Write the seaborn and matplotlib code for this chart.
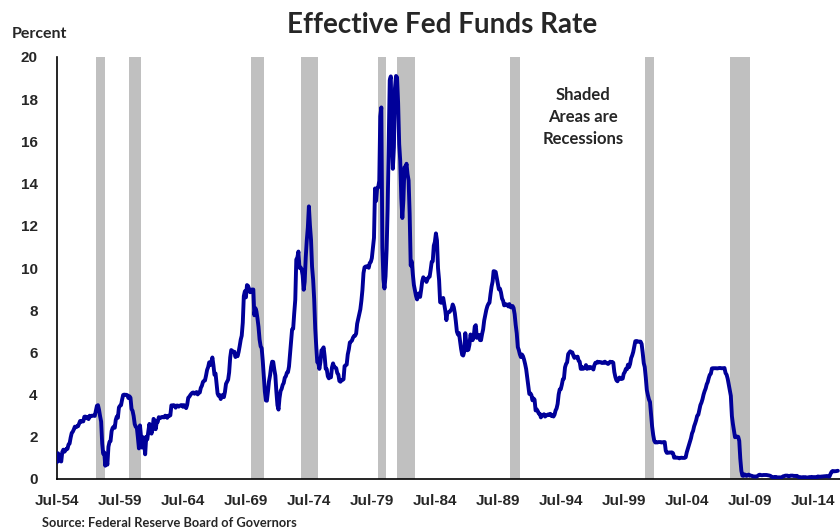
import numpy as np
import pandas as pd
import matplotlib
matplotlib.use("Agg")
import matplotlib.pyplot as plt
import matplotlib.dates as mdates
import seaborn as sns

# Monthly effective fed funds rate (percent), starting Jul 1954
start_month = "1954-07-01"
rate = [
    0.80, 1.22, 1.07, 0.85, 0.83, 1.28,                                  # 1954 (Jul-Dec)
    1.39, 1.29, 1.35, 1.43, 1.43, 1.64, 1.68, 1.96, 2.18, 2.24, 2.35, 2.48,  # 1955
    2.45, 2.50, 2.50, 2.62, 2.75, 2.71, 2.75, 2.73, 2.95, 2.96, 2.88, 2.94,  # 1956
    2.84, 3.00, 2.96, 3.00, 3.00, 3.00, 2.99, 3.24, 3.47, 3.50, 3.28, 2.98,  # 1957
    2.72, 1.67, 1.20, 1.26, 0.63, 0.93, 0.68, 1.53, 1.76, 1.80, 2.27, 2.42,  # 1958
    2.48, 2.43, 2.80, 2.96, 2.90, 3.39, 3.47, 3.50, 3.76, 3.98, 4.00, 3.99,  # 1959
    3.99, 3.97, 3.84, 3.92, 3.85, 3.32, 3.23, 2.98, 2.60, 2.47, 2.44, 1.98,  # 1960
    1.45, 2.54, 2.02, 1.49, 1.98, 1.73, 1.17, 2.00, 1.88, 2.26, 2.61, 2.33,  # 1961
    2.15, 2.37, 2.85, 2.78, 2.36, 2.68, 2.71, 2.93, 2.90, 2.90, 2.94, 2.93,  # 1962
    2.92, 3.00, 2.98, 2.90, 3.00, 2.99, 3.02, 3.49, 3.48, 3.50, 3.48, 3.38,  # 1963
    3.48, 3.48, 3.43, 3.47, 3.50, 3.50, 3.42, 3.50, 3.45, 3.36, 3.52, 3.85,  # 1964
    3.90, 3.98, 4.04, 4.09, 4.10, 4.04, 4.09, 4.12, 4.01, 4.08, 4.10, 4.32,  # 1965
    4.42, 4.60, 4.65, 4.67, 4.90, 5.17, 5.30, 5.53, 5.40, 5.53, 5.76, 5.40,  # 1966
    4.94, 5.00, 4.53, 4.05, 3.94, 3.98, 3.79, 3.90, 3.99, 3.88, 4.13, 4.51,  # 1967
    4.61, 4.71, 5.05, 5.76, 6.11, 6.07, 6.02, 6.03, 5.78, 5.91, 5.82, 6.02,  # 1968
    6.30, 6.61, 6.79, 7.41, 8.67, 8.90, 8.61, 9.19, 9.15, 9.00, 8.85, 8.97,  # 1969
    8.98, 8.98, 7.76, 8.10, 7.95, 7.61, 7.21, 6.61, 6.29, 6.20, 5.60, 4.90,  # 1970
    4.14, 3.72, 3.71, 4.15, 4.63, 4.91, 5.31, 5.56, 5.55, 5.20, 4.91, 4.14,  # 1971
    3.50, 3.29, 3.83, 4.17, 4.27, 4.46, 4.55, 4.80, 4.87, 5.04, 5.06, 5.33,  # 1972
    5.94, 6.58, 7.09, 7.12, 7.84, 8.49, 10.40, 10.50, 10.78, 10.01, 10.03, 9.95,  # 1973
    9.65, 8.97, 9.35, 10.51, 11.31, 11.93, 12.92, 12.01, 11.34, 10.06, 9.45, 8.53,  # 1974
    7.13, 6.24, 5.54, 5.49, 5.22, 5.55, 6.10, 6.14, 6.24, 5.82, 5.22, 5.20,  # 1975
    4.87, 4.77, 4.84, 4.82, 5.29, 5.48, 5.31, 5.29, 5.25, 5.02, 4.95, 4.65,  # 1976
    4.61, 4.68, 4.69, 4.73, 5.35, 5.39, 5.42, 5.90, 6.14, 6.47, 6.51, 6.56,  # 1977
    6.70, 6.78, 6.79, 6.89, 7.36, 7.60, 7.81, 8.04, 8.45, 8.96, 9.76, 10.03,  # 1978
    10.07, 10.06, 10.09, 10.01, 10.24, 10.29, 10.47, 10.94, 11.43, 13.77, 13.18, 13.78,  # 1979
    13.82, 14.13, 17.19, 17.61, 10.98, 9.47, 9.03, 9.61, 10.87, 12.81, 15.85, 18.90,  # 1980
    19.08, 15.93, 14.70, 15.72, 18.52, 19.10, 19.04, 17.82, 15.87, 15.08, 13.31, 12.37,  # 1981
    13.22, 14.78, 14.68, 14.94, 14.45, 14.15, 12.59, 10.12, 10.31, 9.71, 9.20, 8.95,  # 1982
    8.68, 8.51, 8.77, 8.80, 8.63, 8.98, 9.37, 9.56, 9.45, 9.48, 9.34, 9.47,  # 1983
    9.56, 9.59, 9.91, 10.29, 10.32, 11.06, 11.23, 11.64, 11.30, 9.99, 9.43, 8.38,  # 1984
    8.35, 8.50, 8.58, 8.27, 7.97, 7.53, 7.88, 7.90, 7.92, 7.99, 8.05, 8.27,  # 1985
    8.14, 7.86, 7.48, 6.99, 6.85, 6.92, 6.56, 6.17, 5.89, 5.85, 6.04, 6.91,  # 1986
    6.43, 6.10, 6.13, 6.37, 6.85, 6.73, 6.58, 6.73, 7.22, 7.29, 6.69, 6.77,  # 1987
    6.83, 6.58, 6.58, 6.87, 7.09, 7.51, 7.75, 8.01, 8.19, 8.30, 8.35, 8.76,  # 1988
    9.12, 9.36, 9.85, 9.84, 9.81, 9.53, 9.24, 8.99, 9.02, 8.84, 8.55, 8.45,  # 1989
    8.23, 8.24, 8.28, 8.26, 8.18, 8.29, 8.15, 8.13, 8.20, 8.11, 7.81, 7.31,  # 1990
    6.91, 6.25, 6.12, 5.91, 5.78, 5.90, 5.82, 5.66, 5.45, 5.21, 4.81, 4.43,  # 1991
    4.03, 4.06, 3.98, 3.73, 3.82, 3.76, 3.25, 3.30, 3.22, 3.10, 3.09, 2.92,  # 1992
    3.02, 3.03, 3.07, 2.96, 3.00, 3.04, 3.06, 3.03, 3.09, 2.99, 3.02, 2.96,  # 1993
    3.05, 3.25, 3.34, 3.56, 4.01, 4.25, 4.26, 4.47, 4.73, 4.76, 5.29, 5.45,  # 1994
    5.53, 5.92, 5.98, 6.05, 6.01, 6.00, 5.85, 5.74, 5.80, 5.76, 5.80, 5.60,  # 1995
    5.56, 5.22, 5.31, 5.22, 5.24, 5.27, 5.40, 5.22, 5.30, 5.24, 5.31, 5.29,  # 1996
    5.25, 5.19, 5.39, 5.51, 5.50, 5.56, 5.52, 5.54, 5.54, 5.50, 5.52, 5.50,  # 1997
    5.56, 5.51, 5.49, 5.45, 5.49, 5.56, 5.54, 5.55, 5.51, 5.07, 4.83, 4.68,  # 1998
    4.63, 4.76, 4.81, 4.74, 4.74, 4.76, 4.99, 5.07, 5.22, 5.20, 5.42, 5.30,  # 1999
    5.45, 5.73, 5.85, 6.02, 6.27, 6.53, 6.54, 6.50, 6.52, 6.51, 6.51, 6.40,  # 2000
    5.98, 5.49, 5.31, 4.80, 4.21, 3.97, 3.77, 3.65, 3.07, 2.49, 2.09, 1.82,  # 2001
    1.73, 1.74, 1.73, 1.75, 1.75, 1.75, 1.73, 1.74, 1.75, 1.75, 1.34, 1.24,  # 2002
    1.24, 1.26, 1.25, 1.26, 1.26, 1.22, 1.01, 1.03, 1.01, 1.01, 1.00, 0.98,  # 2003
    1.00, 1.01, 1.00, 1.00, 1.00, 1.03, 1.26, 1.43, 1.61, 1.76, 1.93, 2.16,  # 2004
    2.28, 2.50, 2.63, 2.79, 3.00, 3.04, 3.26, 3.50, 3.62, 3.78, 4.00, 4.16,  # 2005
    4.29, 4.49, 4.59, 4.79, 4.94, 4.99, 5.24, 5.25, 5.25, 5.25, 5.25, 5.24,  # 2006
    5.25, 5.26, 5.26, 5.25, 5.25, 5.25, 5.26, 5.02, 4.94, 4.76, 4.49, 4.24,  # 2007
    3.94, 2.98, 2.61, 2.28, 1.98, 2.00, 2.01, 2.00, 1.81, 0.97, 0.39, 0.16,  # 2008
    0.15, 0.22, 0.18, 0.15, 0.18, 0.21, 0.16, 0.16, 0.15, 0.12, 0.12, 0.12,  # 2009
    0.11, 0.13, 0.16, 0.20, 0.20, 0.18, 0.18, 0.19, 0.19, 0.19, 0.19, 0.18,  # 2010
    0.17, 0.16, 0.14, 0.10, 0.09, 0.09, 0.07, 0.10, 0.08, 0.07, 0.08, 0.07,  # 2011
    0.08, 0.10, 0.13, 0.14, 0.16, 0.16, 0.16, 0.13, 0.14, 0.16, 0.16, 0.16,  # 2012
    0.14, 0.15, 0.14, 0.15, 0.11, 0.09, 0.09, 0.08, 0.08, 0.09, 0.08, 0.09,  # 2013
    0.07, 0.07, 0.08, 0.09, 0.09, 0.10, 0.09, 0.09, 0.09, 0.09, 0.09, 0.12,  # 2014
    0.11, 0.11, 0.11, 0.12, 0.12, 0.13, 0.13, 0.14, 0.14, 0.12, 0.12, 0.24,  # 2015
    0.34, 0.38, 0.36, 0.37, 0.37, 0.38, 0.39,                            # 2016 (Jan-Jul)
]

# NBER recessions (peak month, trough month)
rec_start = ["1957-08", "1960-04", "1969-12", "1973-11", "1980-01",
             "1981-07", "1990-07", "2001-03", "2007-12"]
rec_end = ["1958-04", "1961-02", "1970-11", "1975-03", "1980-07",
           "1982-11", "1991-03", "2001-11", "2009-06"]

# Labelled ticks every five years (July)
label_years = list(range(1954, 2016, 5))

df = pd.DataFrame({
    "date": pd.date_range(start_month, periods=len(rate), freq="MS"),
    "rate": rate,
})

sns.set_style("white")
plt.rcParams["font.family"] = ["Liberation Sans", "DejaVu Sans"]
label_font = ["Lato", "DejaVu Sans"]

fig = plt.figure(figsize=(8.4, 5.3), dpi=100)
ax = fig.add_axes([57 / 840, 51 / 530, 783 / 840, 422 / 530])

# recession shading
for s, e in zip(rec_start, rec_end):
    ax.axvspan(pd.Timestamp(s), pd.Timestamp(e) + pd.offsets.MonthEnd(1),
               color="#c0c0c0", lw=0, zorder=0)

sns.lineplot(data=df, x="date", y="rate", color="#000099", linewidth=2.8,
             ax=ax, zorder=3)

ax.set_xlim(pd.Timestamp("1954-07-01"), pd.Timestamp("2016-09-01"))
ax.set_ylim(0, 20)
ax.set_yticks(range(0, 21, 2))
ax.set_xlabel("")
ax.set_ylabel("")

major = pd.to_datetime([f"{y}-07-01" for y in label_years])
minor = pd.to_datetime([f"{y}-07-01" for y in range(1954, 2017)])
ax.set_xticks(major)
ax.set_xticks(minor, minor=True)
ax.xaxis.set_major_formatter(mdates.DateFormatter("%b-%y"))

for side in ["top", "right"]:
    ax.spines[side].set_visible(False)
for side in ["left", "bottom"]:
    ax.spines[side].set_color("black")
    ax.spines[side].set_linewidth(1.2)

ax.tick_params(axis="both", which="both", direction="out", color="#999999",
               length=4, width=1)
ax.tick_params(axis="y", length=5, pad=9, labelsize=11)
ax.tick_params(axis="x", which="major", pad=7, labelsize=11)
for lab in ax.get_xticklabels() + ax.get_yticklabels():
    lab.set_fontweight("bold")

fig.text(442 / 840, 1 - 25 / 530, "Effective Fed Funds Rate", ha="center",
         va="center", fontsize=20, fontweight="bold", family=label_font)
fig.text(12 / 840, 1 - 34 / 530, "Percent", ha="left", va="center",
         fontsize=11.5, fontweight="bold", family=label_font)
fig.text(583 / 840, 1 - 117 / 530, "Shaded\nAreas are\nRecessions", ha="center",
         va="center", fontsize=12, fontweight="bold", linespacing=1.45,
         family=label_font)
fig.text(42 / 840, 1 - 523 / 530, "Source: Federal Reserve Board of Governors",
         ha="left", va="center", fontsize=9.3, fontweight="bold",
         family=label_font)

fig.savefig("out.png", dpi=100)
